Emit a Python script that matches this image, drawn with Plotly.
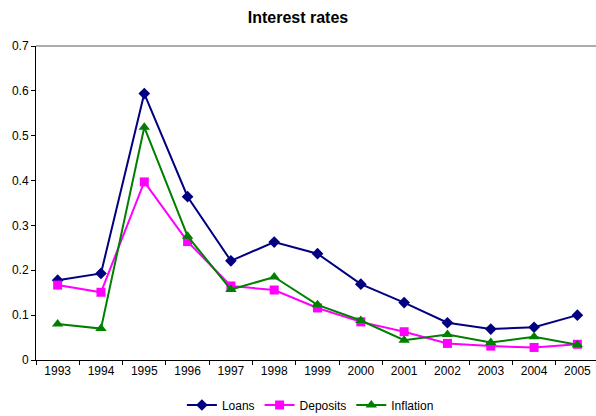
import plotly.graph_objects as go

years = ["1993", "1994", "1995", "1996", "1997", "1998", "1999",
         "2000", "2001", "2002", "2003", "2004", "2005"]
loans = [0.178, 0.193, 0.594, 0.364, 0.221, 0.263, 0.237,
         0.169, 0.128, 0.083, 0.069, 0.073, 0.100]
deposits = [0.167, 0.151, 0.397, 0.264, 0.165, 0.156, 0.116,
            0.085, 0.063, 0.037, 0.031, 0.028, 0.035]
inflation = [0.080, 0.070, 0.519, 0.276, 0.157, 0.185, 0.123,
             0.088, 0.044, 0.057, 0.039, 0.052, 0.034]
y_ticks = [0, 0.1, 0.2, 0.3, 0.4, 0.5, 0.6, 0.7]
y_tick_labels = ["0", "0.1", "0.2", "0.3", "0.4", "0.5", "0.6", "0.7"]

font = "Liberation Sans, Arial, sans-serif"

fig = go.Figure()
fig.add_trace(go.Scatter(x=years, y=loans, name="Loans", mode="lines+markers",
                         line=dict(color="#000080", width=2),
                         marker=dict(symbol="diamond", size=9, color="#000080")))
fig.add_trace(go.Scatter(x=years, y=deposits, name="Deposits", mode="lines+markers",
                         line=dict(color="#FF00FF", width=2),
                         marker=dict(symbol="square", size=9, color="#FF00FF")))
fig.add_trace(go.Scatter(x=years, y=inflation, name="Inflation", mode="lines+markers",
                         line=dict(color="#008000", width=2),
                         marker=dict(symbol="triangle-up", size=10, color="#008000")))

fig.update_layout(
    width=596, height=416,
    margin=dict(l=36, r=0, t=46, b=56),
    paper_bgcolor="white", plot_bgcolor="white",
    font=dict(family=font, size=12, color="black"),
    title=dict(text="<b>Interest rates</b>", x=0.5, xanchor="center",
               y=1 - 17 / 416, yanchor="middle", font=dict(size=16, color="black")),
    showlegend=True,
    legend=dict(orientation="h", x=0.49, xanchor="center", yref="container",
                y=1 - 405 / 416, yanchor="middle", font=dict(size=12),
                itemwidth=30, tracegroupgap=0),
    xaxis=dict(type="category", range=[-0.5, 12.43], showline=True, linecolor="black",
               linewidth=1, ticks="outside", ticklen=4, tickcolor="black",
               tickson="boundaries", showgrid=False, zeroline=False),
    yaxis=dict(range=[0, 0.7], tickmode="array", tickvals=y_ticks, ticktext=y_tick_labels,
               showline=True, linecolor="black", linewidth=1, ticks="outside", ticklen=4,
               tickcolor="black", showgrid=False, zeroline=False),
    shapes=[dict(type="line", xref="paper", yref="paper", x0=0, x1=1, y0=1, y1=1,
                 line=dict(color="#909090", width=1.5))],
)

fig.write_html("out.html")
